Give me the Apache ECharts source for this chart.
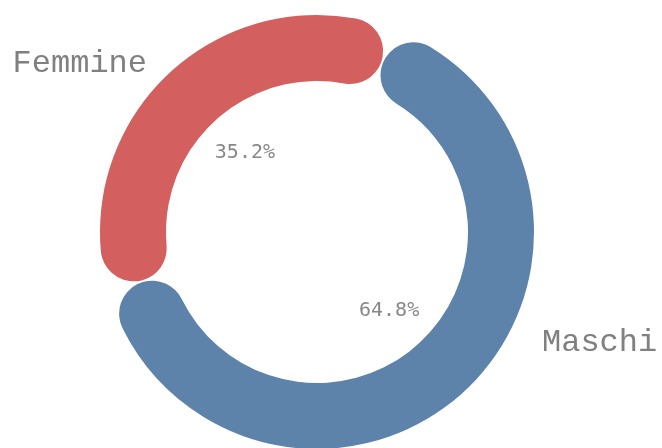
<!DOCTYPE html>
<html>
<head>
<meta charset="utf-8">
<script src="https://cdn.jsdelivr.net/npm/echarts@6/dist/echarts.min.js"></script>
<style>html,body{margin:0;padding:0;background:#fff}#c{width:662px;height:448px}</style>
</head>
<body>
<div id="c"></div>
<script>
const categories = ['Maschi', 'Femmine'];
const values = [64.8, 35.2];
const colors = ['#5d83ab', '#d35f5f'];

const chart = echarts.init(document.getElementById('c'), null, {renderer: 'canvas'});
const data = categories.map((c, i) => ({name: c, value: values[i], itemStyle: {color: colors[i]}}));
const labelPos = {
  Maschi: {x: 542, y: 343, align: 'left'},
  Femmine: {x: 147, y: 64, align: 'right'}
};
chart.setOption({
  animation: false,
  series: [
    {
      type: 'pie',
      center: [317, 232],
      radius: [151, 217],
      startAngle: 69,
      clockwise: true,
      padAngle: 0.6,
      itemStyle: {borderRadius: 33},
      silent: true,
      label: {
        show: true,
        position: 'outside',
        formatter: '{b}',
        fontFamily: 'Liberation Mono',
        fontSize: 32,
        color: '#808080',
        overflow: 'none',
        width: 200
      },
      labelLine: {show: false},
      labelLayout: function (p) {
        const name = categories[p.dataIndex];
        const pos = labelPos[name];
        return {x: pos.x, y: pos.y, align: pos.align, verticalAlign: 'middle'};
      },
      data: data
    },
    {
      type: 'pie',
      center: [317, 232],
      radius: [0, 208],
      startAngle: 69,
      clockwise: true,
      silent: true,
      z: 1,
      itemStyle: {color: 'rgba(0,0,0,0)'},
      label: {
        show: true,
        position: 'inside',
        formatter: function (p) { return p.value.toFixed(1) + '%'; },
        fontFamily: 'DejaVu Sans Mono',
        fontSize: 20,
        color: '#888888'
      },
      labelLine: {show: false},
      data: categories.map((c, i) => ({name: c, value: values[i]}))
    }
  ]
});
</script>
</body>
</html>
